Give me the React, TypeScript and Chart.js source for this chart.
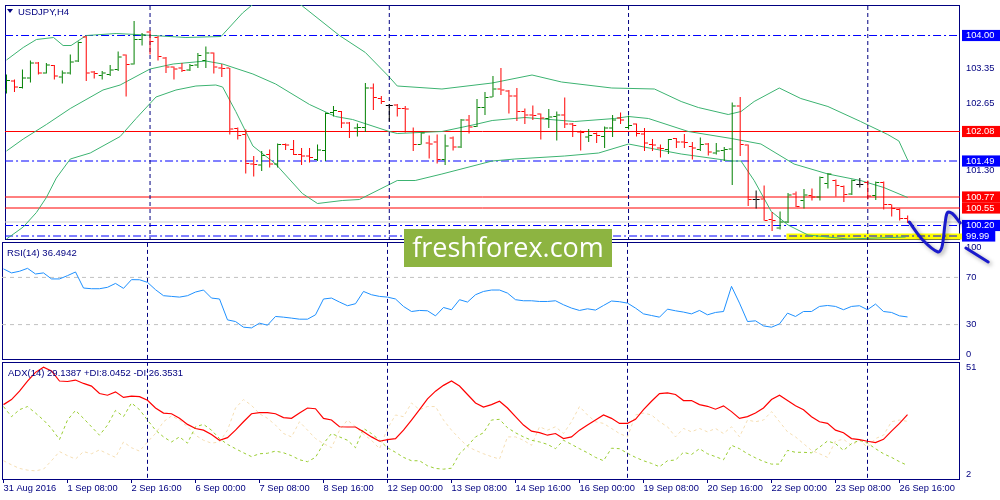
import React, { useEffect, useRef } from "react";
import { Chart, registerables } from "chart.js";

Chart.register(...registerables);
Chart.defaults.font.family = "'Liberation Sans', Arial, sans-serif";
Chart.defaults.font.size = 9.3;

// ---------------- DATA ----------------
const opens = [102.91,103.09,102.96,103.15,103.45,103.25,103.40,103.17,103.25,103.49,
 103.97,103.27,103.20,103.22,103.32,103.61,103.43,103.92,104.07,103.96,
 103.55,103.37,103.35,103.31,103.41,103.50,103.65,103.35,103.35,102.14,
 102.02,101.43,101.41,101.62,101.43,101.82,101.72,101.62,101.59,101.52,
 101.70,102.46,102.48,102.25,102.15,102.16,102.95,102.74,102.60,102.61,
 102.54,102.08,101.82,101.85,101.87,101.52,101.95,101.77,102.31,102.18,
 102.56,102.77,102.93,102.89,102.79,102.48,102.41,102.43,102.34,102.38,
 102.41,102.23,102.07,101.97,102.04,101.98,102.15,102.35,102.16,102.23,
 102.03,101.82,101.75,101.72,101.94,101.87,101.78,101.72,101.83,101.65,
 101.70,101.73,102.59,101.81,100.72,100.73,100.32,100.15,100.27,100.83,
 100.70,100.80,100.77,101.04,101.10,100.98,100.83,101.02,101.06,100.80,
 101.06,100.62,100.52,100.34];
const highs = [103.22,103.12,103.32,103.50,103.47,103.45,103.41,103.30,103.62,103.88,
 103.99,103.29,103.29,103.41,103.68,103.62,104.29,104.05,104.10,103.99,
 103.57,103.38,103.45,103.43,103.65,103.78,103.66,103.43,103.35,102.16,
 102.12,101.59,101.69,101.72,101.84,101.84,101.91,101.75,101.75,101.82,
 102.46,102.59,102.49,102.27,102.24,103.05,103.04,102.79,102.63,102.63,
 102.59,102.16,102.06,102.00,102.02,102.02,101.98,102.33,102.41,102.73,
 102.87,103.19,103.35,102.91,102.95,102.54,102.60,102.44,102.53,102.48,
 102.76,102.25,102.10,102.13,102.06,102.18,102.41,102.46,102.40,102.24,
 102.15,101.93,101.82,101.93,101.95,102.03,101.87,101.96,101.85,101.85,
 101.77,102.66,102.77,101.82,100.90,101.00,100.47,100.48,100.85,100.88,
 100.93,100.94,101.18,101.25,101.12,101.00,101.12,101.15,101.10,101.08,
 101.08,100.62,100.54,100.40];
const lows = [102.84,102.87,102.94,103.06,103.22,103.24,103.12,103.04,103.22,103.47,
 103.09,103.14,103.12,103.19,103.29,102.78,103.42,103.80,103.62,103.50,
 103.25,103.12,103.27,103.29,103.35,103.35,103.24,103.17,102.02,101.92,
 101.24,101.18,101.29,101.36,101.36,101.71,101.61,101.41,101.46,101.49,
 101.49,102.38,102.15,101.95,101.98,102.07,102.51,102.63,102.28,102.38,
 102.06,101.69,101.82,101.54,101.44,101.41,101.70,101.75,102.04,102.17,
 102.41,102.77,102.81,102.44,102.29,102.23,102.31,101.92,102.15,101.90,
 102.15,101.97,101.70,101.87,101.85,101.75,101.97,102.23,102.12,101.98,
 101.69,101.69,101.56,101.63,101.75,101.75,101.52,101.69,101.60,101.62,
 101.49,101.01,101.59,100.59,100.54,100.30,100.09,100.12,100.25,100.57,
 100.54,100.70,100.70,100.94,100.78,100.67,100.81,100.96,100.72,100.71,
 100.52,100.38,100.30,100.25];
const closes = [103.10,102.97,103.15,103.45,103.25,103.41,103.19,103.25,103.47,103.86,
 103.25,103.24,103.25,103.31,103.57,103.42,103.92,104.01,103.88,103.58,
 103.37,103.33,103.30,103.40,103.60,103.65,103.37,103.34,102.13,102.00,
 101.44,101.42,101.60,101.43,101.82,101.81,101.62,101.59,101.56,101.71,
 102.44,102.50,102.25,102.08,102.16,102.95,102.76,102.68,102.60,102.54,
 102.53,101.82,102.05,101.83,101.52,101.79,101.77,102.31,102.17,102.56,
 102.76,102.93,102.91,102.79,102.48,102.41,102.40,102.35,102.37,102.41,
 102.23,102.20,102.06,102.00,102.00,102.15,102.31,102.31,102.20,102.04,
 101.85,101.81,101.74,101.92,101.87,101.86,101.75,101.82,101.67,101.69,
 101.72,102.59,101.82,100.72,100.72,100.30,100.30,100.27,100.81,100.58,
 100.81,100.77,101.16,101.23,101.00,100.82,101.10,101.02,100.79,101.06,
 100.62,100.54,100.34,100.27];

// Bollinger bands: [bar index, price]
const bbUpper: [number, number][] = [[0,103.51],[2.1,103.76],[3.75,103.92],[5.9,103.96],[7.1,103.80],[8.1,103.80],[10,104.00],[13.75,104.04],[16.25,104.02],[22.5,103.96],[26.9,103.98],[29.6,104.45],[31.1,104.65],[34,104.9],[37.1,104.59],[41.75,104.00],[45,103.66],[48,103.17],[49,102.99],[54.6,102.93],[60.9,103.05],[65.9,103.21],[69.6,103.07],[75.9,102.95],[81.25,102.93],[84.6,102.68],[86.75,102.56],[90.5,102.42],[92.1,102.48],[93.75,102.68],[96.9,102.95],[99.6,102.74],[103,102.58],[107.1,102.28],[110.5,102.02],[111.9,101.89],[113,101.51]];
const bbMiddle: [number, number][] = [[0,101.69],[2.1,101.93],[5,102.22],[8,102.54],[12.1,102.91],[14.25,103.01],[18,103.33],[20.9,103.43],[25,103.49],[27.1,103.43],[30.9,103.23],[33.75,103.03],[38,102.62],[41.25,102.38],[43.4,102.32],[48,102.08],[49,102.04],[54.6,102.08],[58.75,102.22],[60.9,102.30],[65,102.36],[71.25,102.28],[76.25,102.34],[78,102.38],[80.5,102.34],[85.5,102.08],[90.9,101.94],[94.6,101.83],[98.75,101.43],[103,101.23],[107.1,101.10],[110,100.96],[113,100.76]];
const bbLower: [number, number][] = [[0,99.93],[2.1,100.17],[3.75,100.46],[5,100.76],[6.25,101.15],[8,101.53],[10.5,101.65],[14.25,101.98],[16.25,102.34],[18.75,102.77],[21.25,102.91],[23.75,102.99],[26.25,103.01],[27.1,102.97],[28.75,102.48],[30.9,101.79],[33.75,101.43],[37.1,100.84],[39,100.64],[42.1,100.70],[44.25,100.72],[49,101.10],[51.25,101.10],[54.6,101.23],[60.9,101.49],[63.75,101.53],[70,101.59],[74.25,101.65],[78,101.83],[81.25,101.73],[84.6,101.63],[90.9,101.49],[92.1,101.49],[93.75,101.10],[95.9,100.48],[98,100.21],[100.5,100.01],[105.5,99.93],[112.75,99.97]];

const rsi = [77.2,73.8,75.2,77.7,72.9,73.8,68.7,68.7,71.5,74.6,
 61.0,60.4,60.4,61.6,64.9,60.7,68.1,68.0,65.8,59.6,
 54.5,53.9,53.3,54.5,57.6,59.3,52.5,51.7,34.0,32.6,
 27.8,27.2,31.2,29.5,36.9,36.3,35.5,34.6,34.6,38.3,
 51.7,52.5,49.1,46.0,47.7,58.1,55.3,53.9,53.3,51.7,
 45.4,41.1,42.0,41.7,37.4,44.5,42.6,51.1,49.1,55.3,
 58.1,59.3,59.3,56.7,51.1,50.2,50.2,49.6,49.6,50.2,
 46.8,44.0,42.0,43.4,42.3,46.2,50.0,49.4,48.2,44.0,
 39.1,37.7,36.3,43.1,41.7,40.6,39.1,42.0,38.3,40.3,
 41.1,62.4,48.2,32.6,33.2,28.9,27.8,30.6,39.7,36.9,
 41.1,41.1,45.4,46.2,45.4,42.6,45.4,46.0,42.6,47.4,
 41.1,40.3,37.4,36.49];
const adx = [33.3,35.4,38.9,43.1,46.7,48.8,47.3,43.1,42.9,43.5,
 42.1,41.0,37.9,37.2,38.6,36.3,36.8,36.6,35.1,31.9,
 29.8,29.5,27.6,25.1,23.4,22.7,20.9,18.5,19.6,22.7,
 26.2,29.5,30.0,30.0,29.5,27.9,27.6,29.8,31.9,31.6,
 27.6,26.9,24.1,24.0,24.0,22.0,19.9,18.1,18.8,19.2,
 22.7,26.9,31.2,35.7,38.9,41.3,43.1,41.0,37.5,34.0,
 32.3,33.3,34.7,31.9,28.3,24.8,22.3,21.7,20.6,21.3,
 19.2,19.9,22.7,24.8,26.9,29.0,27.6,25.5,25.5,27.2,
 31.2,34.7,37.9,38.2,37.5,35.0,35.0,33.3,32.6,31.4,
 32.8,30.4,27.6,28.3,29.8,31.9,35.4,37.2,35.0,32.8,
 31.2,28.3,26.2,25.5,22.7,21.6,19.2,18.8,18.1,17.5,
 18.9,22.3,25.5,29.14];
const plusDI = [32.5,28.3,31.2,32.5,29.8,26.9,23.4,18.8,26.9,30.9,
 27.6,24.1,20.6,24.8,30.9,28.3,34.0,31.2,26.9,22.7,
 19.9,17.8,19.9,17.3,24.1,25.1,22.7,19.2,16.8,15.0,
 13.3,11.7,12.9,13.1,14.0,13.3,12.1,10.4,9.6,11.4,
 17.1,21.3,19.9,18.5,15.4,23.4,21.3,18.5,15.4,13.5,
 11.4,10.0,10.0,7.9,6.8,6.5,6.9,12.9,16.1,19.9,
 21.6,26.9,27.2,23.7,21.6,19.9,18.5,17.8,16.8,15.0,
 18.5,16.8,15.0,13.3,11.4,10.0,15.2,15.0,13.1,11.4,
 10.0,8.9,7.5,10.0,10.3,13.5,12.6,15.0,12.9,11.7,
 10.4,16.4,15.0,12.9,11.2,9.7,8.6,8.6,14.3,13.5,
 13.5,13.3,15.6,18.2,17.1,14.3,17.1,18.5,17.3,15.0,
 12.9,11.4,9.6,8.05];
const minusDI = [10.0,8.3,6.8,6.1,5.8,6.5,10.0,13.8,12.1,10.7,
 13.8,12.9,14.5,12.9,11.4,17.8,15.4,14.0,17.8,21.3,
 26.2,28.6,26.9,24.1,20.6,18.5,17.3,17.8,22.7,31.9,
 35.4,33.0,29.5,27.6,24.8,21.3,19.9,26.2,22.7,19.2,
 17.1,15.4,22.7,26.9,24.1,21.0,18.5,15.0,23.4,29.0,
 28.3,34.0,31.2,32.5,32.5,26.9,22.7,19.2,15.9,14.3,
 12.9,11.7,10.7,19.9,19.9,18.5,16.4,24.1,22.7,24.1,
 21.3,26.2,32.5,29.0,26.2,25.5,23.4,21.3,19.9,29.0,
 29.8,29.0,26.2,24.1,19.9,23.4,22.0,23.4,22.0,23.4,
 21.3,24.1,19.9,26.9,26.2,26.9,30.4,26.2,22.0,19.9,
 17.1,14.3,12.9,11.4,18.2,18.9,16.4,18.5,15.6,19.2,
 20.6,26.2,26.9,26.35];

const redLevels = [102.08, 100.77, 100.55];
const blueLevels = [104.0, 101.49, 100.2, 99.99];
const scaleLabels = [103.35, 102.65, 101.3];
const bidPrice = [100.27];
const weekSeparators = [18, 48, 78, 108];
const highlightZone = [97.8, 119.8];
const highlightLevel = [99.98];
const sketchPath: [number, number][] = [[113.2,100.27],[114.9,99.91],[116.8,99.67],[117.3,99.77],[117.7,100.25],[118.0,100.46],[118.6,100.44],[119.6,100.25],[120.8,100.05],[122.1,99.85],[122.9,99.61],[123.1,99.47]];
const sketchArrow: [number, number][] = [[120.3,99.75],[123.1,99.47],[123.3,99.85]];
const rsiLevels = [70, 30];
const rsiTicks = [0, 30, 70, 100];
const adxTicks = [2, 51];
const xTickIndex = [0, 8, 16, 24, 32, 40, 48, 56, 64, 72, 80, 88, 96, 104, 112];
const xTickLabels = ["31 Aug 2016", "1 Sep 08:00", "2 Sep 16:00", "6 Sep 00:00", "7 Sep 08:00", "8 Sep 16:00", "12 Sep 00:00", "13 Sep 08:00", "14 Sep 16:00", "16 Sep 00:00", "19 Sep 08:00", "20 Sep 16:00", "22 Sep 00:00", "23 Sep 08:00", "26 Sep 16:00"];

// ---------------- STYLE ----------------
const NAVY = "#000080";
const GREEN = "#008000";
const RED = "#FF0000";
const BLUE = "#0000FF";
const BB = "#3CB371";
const SKETCH = "#1B1BCC";
const X_MIN = -0.1875;
const X_MAX = 119.5625;
const P_MIN = 99.91;
const P_MAX = 104.61;
const FONT = { family: "'Liberation Sans', Arial, sans-serif", size: 9.3 };

const framePlugin = {
  id: "frame",
  beforeDatasetsDraw(chart: any) {
    const { ctx, chartArea: a } = chart;
    ctx.save();
    ctx.strokeStyle = NAVY;
    ctx.lineWidth = 1;
    ctx.strokeRect(a.left + 0.5, a.top + 0.5, a.right - a.left - 1, a.bottom - a.top - 1);
    ctx.restore();
  },
};

// soft drop shadow under the hand-drawn sketch datasets
const shadowPlugin = {
  id: "sketchShadow",
  beforeDatasetDraw(chart: any, args: any) {
    if (args.meta && chart.data.datasets[args.index].sketch) {
      const ctx = chart.ctx;
      ctx.shadowColor = "rgba(0,0,0,0.35)";
      ctx.shadowBlur = 4;
      ctx.shadowOffsetX = 2;
      ctx.shadowOffsetY = 2;
    }
  },
  afterDatasetDraw(chart: any) {
    const ctx = chart.ctx;
    ctx.shadowColor = "rgba(0,0,0,0)";
    ctx.shadowBlur = 0;
    ctx.shadowOffsetX = 0;
    ctx.shadowOffsetY = 0;
  },
};

const hLine = (y: number, color: string, dash: number[], order: number, width = 1) => ({
  type: "line",
  data: [{ x: X_MIN - 2, y }, { x: X_MAX + 2, y }],
  borderColor: color,
  borderWidth: width,
  borderDash: dash,
  pointRadius: 0,
  fill: false,
  order,
});
const vLine = (x: number, lo: number, hi: number) => ({
  type: "line",
  data: [{ x, y: lo }, { x, y: hi }],
  borderColor: NAVY,
  borderWidth: 1,
  borderDash: [4, 3],
  pointRadius: 0,
  fill: false,
  order: 60,
});
const bandSet = (pts: [number, number][]) => ({
  type: "line",
  data: pts.map(([x, y]) => ({ x, y })),
  borderColor: BB,
  borderWidth: 1,
  pointRadius: 0,
  fill: false,
  order: 70,
});
const seriesSet = (vals: number[], color: string, dash: number[], width: number, order: number) => ({
  type: "line",
  data: vals.map((y, i) => ({ x: i, y })),
  borderColor: color,
  borderWidth: width,
  borderDash: dash,
  pointRadius: 0,
  fill: false,
  order,
});

const yAxisBase = (min: number, max: number) => ({
  position: "right",
  min,
  max,
  afterFit: (s: any) => {
    s.width = 40;
    s.paddingTop = 0;
    s.paddingBottom = 0;
    s.paddingLeft = 0;
    s.paddingRight = 0;
  },
  grid: { display: false, drawTicks: false },
  border: { display: false },
});
const hiddenX = { type: "linear", display: false, min: X_MIN, max: X_MAX, offset: false, grid: { offset: false } };
const commonOpts = {
  responsive: false,
  animation: false,
  events: [],
  plugins: { legend: { display: false }, tooltip: { enabled: false } },
};

const barColors = opens.map((o, i) => (closes[i] > o ? GREEN : closes[i] < o ? RED : "#000000"));
const boxedColor = (v: number) => {
  if (redLevels.some((l) => Math.abs(l - v) < 0.001)) return RED;
  if (blueLevels.some((l) => Math.abs(l - v) < 0.001)) return BLUE;
  return null;
};
const priceTicks = [...redLevels, ...blueLevels, ...scaleLabels].sort((a, b) => a - b);

function mainConfig(): any {
  return {
    type: "line",
    data: {
      datasets: [
        { ...hLine(highlightLevel[0], "#FFFF00", [], 100, 6), data: [{ x: highlightZone[0], y: highlightLevel[0] }, { x: highlightZone[1], y: highlightLevel[0] }], clip: false },
        hLine(bidPrice[0], "#CFCFCF", [], 90),
        ...blueLevels.map((v) => hLine(v, BLUE, [8, 3, 2, 3], 80)),
        ...redLevels.map((v) => hLine(v, RED, [], 80)),
        bandSet(bbUpper),
        bandSet(bbMiddle),
        bandSet(bbLower),
        ...weekSeparators.map((s) => vLine(s, P_MIN - 1, P_MAX + 1)),
        {
          type: "bar",
          data: highs.map((h, i) => ({ x: i, y: [lows[i], h] })),
          backgroundColor: barColors,
          borderWidth: 0,
          barThickness: 1,
          inflateAmount: 0,
          grouped: false,
          order: 50,
        },
        {
          type: "line",
          data: opens.map((o, i) => ({ x: i - 0.25, y: o })),
          showLine: false,
          pointStyle: "line",
          pointRadius: 1.5,
          pointBorderColor: barColors,
          pointBorderWidth: 1,
          order: 40,
        },
        {
          type: "line",
          data: closes.map((c, i) => ({ x: i + 0.25, y: c })),
          showLine: false,
          pointStyle: "line",
          pointRadius: 1.5,
          pointBorderColor: barColors,
          pointBorderWidth: 1,
          order: 40,
        },
        {
          type: "line",
          sketch: true,
          data: sketchPath.map(([x, y]) => ({ x, y })),
          borderColor: SKETCH,
          borderWidth: 3,
          tension: 0.35,
          capBezierPoints: false,
          borderCapStyle: "round",
          borderJoinStyle: "round",
          pointRadius: 0,
          clip: false,
          order: 0,
        },
        {
          type: "line",
          sketch: true,
          data: sketchArrow.map(([x, y]) => ({ x, y })),
          borderColor: SKETCH,
          borderWidth: 3,
          borderCapStyle: "round",
          borderJoinStyle: "round",
          pointRadius: 0,
          clip: false,
          order: 0,
        },
      ],
    },
    options: {
      ...commonOpts,
      layout: { padding: { left: 2, top: 2, right: 0, bottom: 32 } },
      scales: {
        x: hiddenX,
        y: {
          ...yAxisBase(P_MIN, P_MAX),
          afterBuildTicks: (s: any) => { s.ticks = priceTicks.map((v) => ({ value: v })); },
          ticks: {
            autoSkip: false,
            padding: 6,
            font: FONT,
            color: (c: any) => (boxedColor(c.tick.value) ? "#FFFFFF" : NAVY),
            showLabelBackdrop: (c: any) => !!boxedColor(c.tick.value),
            backdropColor: (c: any) => boxedColor(c.tick.value) || "rgba(0,0,0,0)",
            backdropPadding: { left: 4, right: 6, top: 0, bottom: 0 },
            callback: (v: any) => Number(v).toFixed(2),
          },
        },
      },
    },
    plugins: [framePlugin, shadowPlugin],
  };
}

function rsiConfig(): any {
  return {
    type: "line",
    data: {
      datasets: [
        ...rsiLevels.map((v) => hLine(v, "#C0C0C0", [4, 4], 80)),
        ...weekSeparators.map((s) => vLine(s, -5, 105)),
        seriesSet(rsi, "#1E90FF", [], 1, 10),
      ],
    },
    options: {
      ...commonOpts,
      layout: { padding: { left: 2, top: 2, right: 0, bottom: 2 } },
      scales: {
        x: hiddenX,
        y: {
          ...yAxisBase(0, 100),
          afterBuildTicks: (s: any) => { s.ticks = rsiTicks.map((v) => ({ value: v })); },
          ticks: {
            autoSkip: false,
            padding: 6,
            font: FONT,
            color: NAVY,
            callback: (v: any) => (v === 100 ? ["", "100"] : v === 0 ? ["0", ""] : String(v)),
          },
        },
      },
    },
    plugins: [framePlugin],
  };
}

function adxConfig(): any {
  return {
    type: "line",
    data: {
      datasets: [
        ...weekSeparators.map((s) => vLine(s, 0, 60)),
        seriesSet(minusDI, "#F5DEB3", [3, 3], 1, 30),
        seriesSet(plusDI, "#9ACD32", [3, 3], 1, 20),
        seriesSet(adx, "#FF0000", [], 1.2, 10),
      ],
    },
    options: {
      ...commonOpts,
      layout: { padding: { left: 2, top: 2, right: 0, bottom: 0 } },
      scales: {
        x: {
          type: "linear",
          position: "bottom",
          min: X_MIN,
          max: X_MAX,
          offset: false,
          afterBuildTicks: (s: any) => { s.ticks = xTickIndex.map((v) => ({ value: v })); },
          afterFit: (s: any) => {
            s.height = 20;
            s.paddingLeft = 0;
            s.paddingRight = 0;
            s.paddingTop = 0;
            s.paddingBottom = 0;
          },
          grid: { display: true, offset: false, drawOnChartArea: false, drawTicks: true, tickLength: 3, color: NAVY },
          border: { display: false },
          ticks: {
            align: "start",
            padding: 0,
            autoSkip: false,
            maxRotation: 0,
            minRotation: 0,
            font: FONT,
            color: NAVY,
            callback: (_v: any, i: number) => xTickLabels[i],
          },
        },
        y: {
          ...yAxisBase(2, 51),
          afterBuildTicks: (s: any) => { s.ticks = adxTicks.map((v) => ({ value: v })); },
          ticks: {
            autoSkip: false,
            padding: 6,
            font: FONT,
            color: NAVY,
            callback: (v: any) => (v === 51 ? ["", "51"] : v === 2 ? ["2", ""] : String(v)),
          },
        },
      },
    },
    plugins: [framePlugin],
  };
}

const titleStyle: React.CSSProperties = {
  position: "absolute",
  fontFamily: "'Liberation Sans', Arial, sans-serif",
  fontSize: "9.5px",
  lineHeight: "11px",
  color: NAVY,
  whiteSpace: "nowrap",
  zIndex: 5,
};

export default function App() {
  const mainRef = useRef<HTMLCanvasElement>(null);
  const rsiRef = useRef<HTMLCanvasElement>(null);
  const adxRef = useRef<HTMLCanvasElement>(null);

  useEffect(() => {
    const charts = [
      new Chart(adxRef.current as HTMLCanvasElement, adxConfig()),
      new Chart(rsiRef.current as HTMLCanvasElement, rsiConfig()),
      new Chart(mainRef.current as HTMLCanvasElement, mainConfig()),
    ];
    return () => charts.forEach((c) => c.destroy());
  }, []);

  return (
    <div style={{ position: "absolute", left: 0, top: 0, width: 1000, height: 500, background: "#FFFFFF", overflow: "hidden" }}>
      <canvas ref={adxRef} width={1000} height={140} style={{ position: "absolute", left: 0, top: 360, zIndex: 1 }} />
      <canvas ref={rsiRef} width={1000} height={122} style={{ position: "absolute", left: 0, top: 240, zIndex: 2 }} />
      <canvas ref={mainRef} width={1000} height={272} style={{ position: "absolute", left: 0, top: 0, zIndex: 3 }} />
      <div style={{ position: "absolute", left: 7, top: 9, width: 0, height: 0, borderLeft: "3.5px solid transparent", borderRight: "3.5px solid transparent", borderTop: "4px solid " + NAVY, zIndex: 5 }} />
      <div style={{ ...titleStyle, left: 18, top: 5.5 }}>USDJPY,H4</div>
      <div style={{ ...titleStyle, left: 7, top: 246.5 }}>RSI(14) 36.4942</div>
      <div style={{ ...titleStyle, left: 8, top: 366.5 }}>ADX(14) 29.1387 +DI:8.0452 -DI:26.3531</div>
      <div
        style={{
          position: "absolute",
          left: 404,
          top: 229,
          width: 208,
          height: 38,
          background: "#8DB441",
          color: "#FFFFFF",
          fontFamily: "'Open Sans', sans-serif",
          fontSize: "27px",
          lineHeight: "36px",
          textAlign: "center",
          zIndex: 4,
        }}
      >
        freshforex.com
      </div>
    </div>
  );
}
